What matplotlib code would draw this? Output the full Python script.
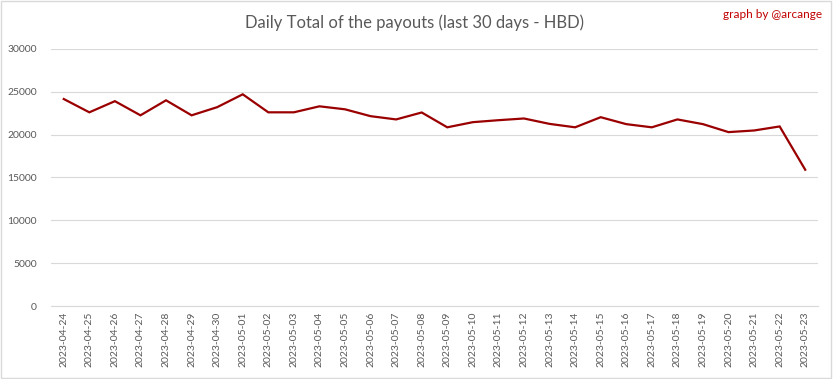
import matplotlib

matplotlib.use("Agg")
import matplotlib.pyplot as plt
from matplotlib.patches import Rectangle

# daily HBD payout totals
dates = [
    "2023-04-24", "2023-04-25", "2023-04-26", "2023-04-27", "2023-04-28",
    "2023-04-29", "2023-04-30", "2023-05-01", "2023-05-02", "2023-05-03",
    "2023-05-04", "2023-05-05", "2023-05-06", "2023-05-07", "2023-05-08",
    "2023-05-09", "2023-05-10", "2023-05-11", "2023-05-12", "2023-05-13",
    "2023-05-14", "2023-05-15", "2023-05-16", "2023-05-17", "2023-05-18",
    "2023-05-19", "2023-05-20", "2023-05-21", "2023-05-22", "2023-05-23",
]
payouts = [
    24150, 22600, 23900, 22250, 24000, 22250, 23200, 24700, 22600, 22600,
    23300, 22950, 22150, 21770, 22580, 20850, 21450, 21680, 21880, 21250,
    20850, 22030, 21220, 20850, 21770, 21220, 20290, 20480, 20950, 15900,
]
yticks = [0, 5000, 10000, 15000, 20000, 25000, 30000]

plt.rcParams["font.family"] = ["Lato", "DejaVu Sans"]

fig = plt.figure(figsize=(8.33, 3.79), dpi=100, facecolor="white")
ax = fig.add_axes([0.0612, 0.1926, 0.9208, 0.6784])

x = range(len(dates))
ax.plot(x, payouts, color="#9a0000", lw=1.6, solid_joinstyle="miter")

ax.set_xlim(-0.5, len(dates) - 0.5)
ax.set_ylim(0, 30000)
ax.set_yticks(yticks)
ax.set_yticklabels([str(v) for v in yticks])
ax.set_xticks(list(x))
ax.set_xticklabels(dates, rotation=90)
ax.tick_params(axis="both", length=0, labelsize=7.5, colors="#595959")
ax.tick_params(axis="y", pad=10)
ax.tick_params(axis="x", pad=4)

ax.grid(axis="y", color="#d9d9d9", lw=0.8)
ax.set_axisbelow(True)
for side in ["top", "right", "left"]:
    ax.spines[side].set_visible(False)
ax.spines["bottom"].set_color("#d9d9d9")
ax.spines["bottom"].set_linewidth(0.8)

fig.text(0.498, 0.94, "Daily Total of the payouts (last 30 days - HBD)",
         ha="center", va="center", fontsize=12, color="#595959")
fig.text(0.987, 0.962, "graph by @arcange", ha="right", va="center",
         fontsize=8.5, color="#c00000")

# thin outer frame like the exported chart
fig.patches.append(Rectangle((0.001, 0.002), 0.997, 0.995, transform=fig.transFigure,
                             fill=False, edgecolor="#d9d9d9", lw=1))

fig.savefig("out.png", dpi=100, facecolor="white")
